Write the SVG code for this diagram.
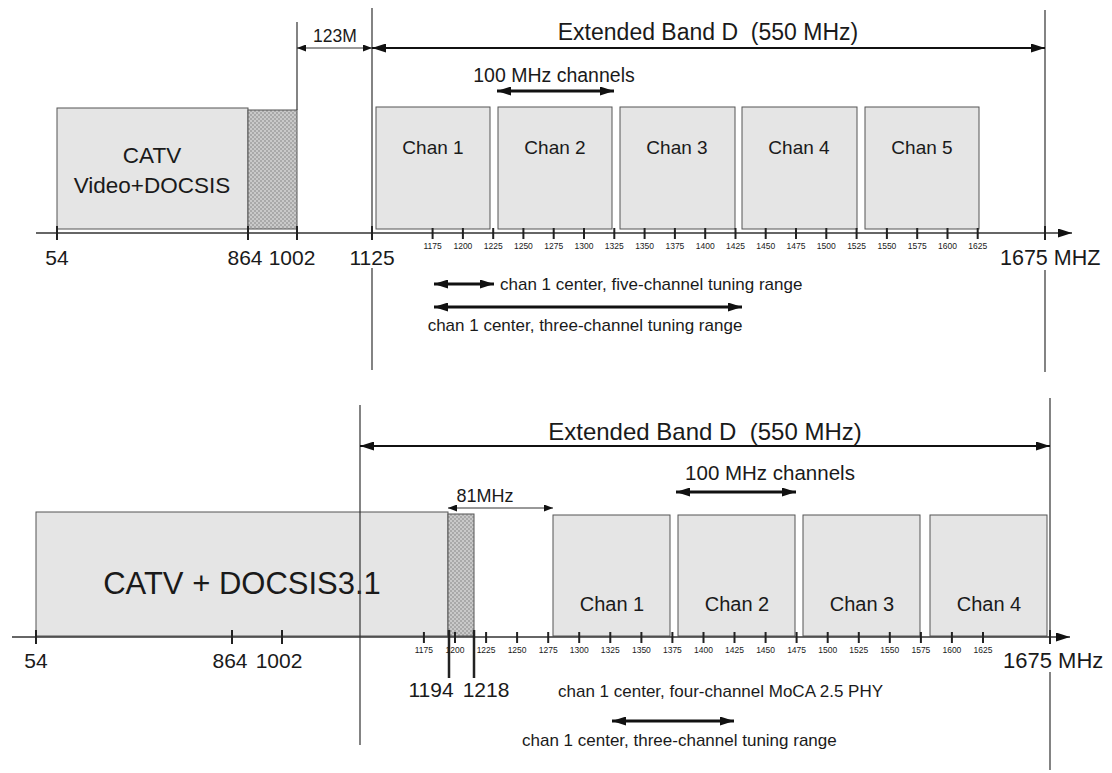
<svg xmlns="http://www.w3.org/2000/svg" width="1112" height="773" viewBox="0 0 1112 773">
<style>
text{font-family:"Liberation Sans",Arial,sans-serif;fill:#1a1a1a}
.box{fill:#e5e5e5;stroke:#555;stroke-width:1}
.hatch{fill:url(#xh);stroke:#555;stroke-width:1}
.vl{stroke:#333;stroke-width:1.2;fill:none}
.axis{stroke:#333;stroke-width:1.5;fill:none}
.tk{stroke:#222;stroke-width:2;fill:none}
.stk{stroke:#222;stroke-width:2;fill:none}
.thick{stroke:#111;stroke-width:3;fill:none;marker-start:url(#ah);marker-end:url(#ah)}
.med{stroke:#111;stroke-width:1.8;fill:none;marker-start:url(#ah);marker-end:url(#ah)}
.thin{stroke:#333;stroke-width:1;fill:none;marker-start:url(#ahs);marker-end:url(#ahs)}
.small{font-size:8.5px;text-anchor:middle}
.ax{font-size:21px;text-anchor:middle}
.chan{font-size:19px;text-anchor:middle}
.note{font-size:17px}
</style>
<defs>
<pattern id="xh" width="4" height="4" patternUnits="userSpaceOnUse">
<rect width="4" height="4" fill="#c9c9c9"/>
<rect width="2" height="2" fill="#a9a9a9"/>
<rect x="2" y="2" width="2" height="2" fill="#a9a9a9"/>
</pattern>
<marker id="ah" viewBox="0 0 10 10" refX="10" refY="5" markerWidth="14" markerHeight="9" markerUnits="userSpaceOnUse" orient="auto-start-reverse" preserveAspectRatio="none"><path d="M0,0 L10,5 L0,10 z" fill="#111"/></marker>
<marker id="ahs" viewBox="0 0 10 10" refX="10" refY="5" markerWidth="9" markerHeight="7" markerUnits="userSpaceOnUse" orient="auto-start-reverse" preserveAspectRatio="none"><path d="M0,0 L10,5 L0,10 z" fill="#111"/></marker>
<marker id="ae" viewBox="0 0 10 10" refX="10" refY="5" markerWidth="14" markerHeight="9" markerUnits="userSpaceOnUse" orient="auto" preserveAspectRatio="none"><path d="M0,0 L10,5 L0,10 z" fill="#111"/></marker>
</defs>
<rect width="1112" height="773" fill="#fff"/>

<!-- ================= TOP DIAGRAM ================= -->
<g id="top-nodes">
<g id="top-catv"><rect class="box" x="57" y="108" width="191" height="121"/>
<text x="152" y="163" style="font-size:22.5px;text-anchor:middle">CATV</text>
<text x="152" y="193" style="font-size:22.5px;text-anchor:middle">Video+DOCSIS</text></g>
<g id="top-guard"><rect class="hatch" x="248" y="110" width="49" height="119"/></g>
<g id="top-chan1"><rect class="box" x="376" y="107" width="114" height="122"/><text class="chan" x="433" y="154">Chan 1</text></g>
<g id="top-chan2"><rect class="box" x="498" y="107" width="114" height="122"/><text class="chan" x="555" y="154">Chan 2</text></g>
<g id="top-chan3"><rect class="box" x="620" y="107" width="115" height="122"/><text class="chan" x="677" y="154">Chan 3</text></g>
<g id="top-chan4"><rect class="box" x="742" y="107" width="115" height="122"/><text class="chan" x="799" y="154">Chan 4</text></g>
<g id="top-chan5"><rect class="box" x="865" y="107" width="114" height="122"/><text class="chan" x="922" y="154">Chan 5</text></g>
</g>

<g id="top-axis">
<path class="vl" d="M297,22 V110 M372,8 V240 M372,268 V370 M1045,10 V240 M1045,270 V372"/>
<path class="axis" d="M36,233 H1072" marker-end="url(#ae)"/>
<path class="tk" d="M57,226 V240 M248,226 V240 M297,226 V240 M372,226 V240 M1045,226 V240"/>
<path class="stk" d="M432.6,228 V239 M462.9,228 V239 M493.2,228 V239 M523.4,228 V239 M553.7,228 V239 M584,228 V239 M614.3,228 V239 M644.6,228 V239 M674.9,228 V239 M705.2,228 V239 M735.5,228 V239 M765.7,228 V239 M796,228 V239 M826.3,228 V239 M856.6,228 V239 M886.9,228 V239 M917.2,228 V239 M947.5,228 V239 M977.7,228 V239"/>
<g>
<text class="small" x="432.6" y="249">1175</text><text class="small" x="462.9" y="249">1200</text><text class="small" x="493.2" y="249">1225</text><text class="small" x="523.4" y="249">1250</text><text class="small" x="553.7" y="249">1275</text><text class="small" x="584" y="249">1300</text><text class="small" x="614.3" y="249">1325</text><text class="small" x="644.6" y="249">1350</text><text class="small" x="674.9" y="249">1375</text><text class="small" x="705.2" y="249">1400</text><text class="small" x="735.5" y="249">1425</text><text class="small" x="765.7" y="249">1450</text><text class="small" x="796" y="249">1475</text><text class="small" x="826.3" y="249">1500</text><text class="small" x="856.6" y="249">1525</text><text class="small" x="886.9" y="249">1550</text><text class="small" x="917.2" y="249">1575</text><text class="small" x="947.5" y="249">1600</text><text class="small" x="977.7" y="249">1625</text>
</g>
<text class="ax" x="57" y="265">54</text>
<text class="ax" x="245" y="265">864</text>
<text class="ax" x="292" y="265">1002</text>
<text class="ax" x="372" y="265">1125</text>
<text x="1000" y="265" style="font-size:21.5px">1675 MHZ</text>
</g>

<g id="top-connectors">
<path class="thin" d="M297,48 H372"/>
<path class="med" d="M372,48 H1045"/>
<path class="thick" d="M497,91 H614"/>
<path class="thick" d="M434,284 H494"/>
<path class="thick" d="M434,307 H742"/>
</g>
<g id="top-labels">
<text x="335" y="42" style="font-size:17.5px;text-anchor:middle">123M</text>
<text x="708" y="40" style="font-size:23px;text-anchor:middle" xml:space="preserve">Extended Band D  (550 MHz)</text>
<text x="554" y="82" style="font-size:19.5px;text-anchor:middle">100 MHz channels</text>
<text class="note" x="500" y="290">chan 1 center, five-channel tuning range</text>
<text class="note" x="585" y="331" text-anchor="middle">chan 1 center, three-channel tuning range</text>
</g>

<!-- ================= BOTTOM DIAGRAM ================= -->
<g id="bottom-nodes">
<g id="bot-catv"><rect class="box" x="36" y="512" width="412" height="124"/>
<text x="242" y="594" style="font-size:31px;text-anchor:middle">CATV + DOCSIS3.1</text></g>
<g id="bot-guard"><rect class="hatch" x="448" y="514" width="26" height="122"/></g>
<g id="bot-chan1"><rect class="box" x="553" y="515" width="117" height="121"/><text class="chan" x="612" y="611" style="font-size:20px">Chan 1</text></g>
<g id="bot-chan2"><rect class="box" x="678" y="515" width="117" height="121"/><text class="chan" x="737" y="611" style="font-size:20px">Chan 2</text></g>
<g id="bot-chan3"><rect class="box" x="803" y="515" width="117" height="121"/><text class="chan" x="862" y="611" style="font-size:20px">Chan 3</text></g>
<g id="bot-chan4"><rect class="box" x="930" y="515" width="117" height="121"/><text class="chan" x="989" y="611" style="font-size:20px">Chan 4</text></g>
</g>

<g id="bottom-axis">
<path class="vl" d="M360,405 V745 M1050,398 V644 M1050,672 V770"/>
<path class="axis" d="M12,637 H1070" marker-end="url(#ae)"/>
<path class="tk" d="M36,630 V644 M232,630 V644 M282,630 V644 M1050,630 V644"/>
<path class="tk" style="stroke-width:2.5" d="M449,630 V678 M474,630 V678"/>
<path class="stk" d="M423.9,632 V643 M455,632 V643 M486.1,632 V643 M517.1,632 V643 M548.2,632 V643 M579.2,632 V643 M610.3,632 V643 M641.4,632 V643 M672.4,632 V643 M703.5,632 V643 M734.5,632 V643 M765.6,632 V643 M796.6,632 V643 M827.7,632 V643 M858.8,632 V643 M889.8,632 V643 M920.9,632 V643 M951.9,632 V643 M983,632 V643"/>
<g>
<text class="small" x="423.9" y="653">1175</text><text class="small" x="455" y="653">1200</text><text class="small" x="486.1" y="653">1225</text><text class="small" x="517.1" y="653">1250</text><text class="small" x="548.2" y="653">1275</text><text class="small" x="579.2" y="653">1300</text><text class="small" x="610.3" y="653">1325</text><text class="small" x="641.4" y="653">1350</text><text class="small" x="672.4" y="653">1375</text><text class="small" x="703.5" y="653">1400</text><text class="small" x="734.5" y="653">1425</text><text class="small" x="765.6" y="653">1450</text><text class="small" x="796.6" y="653">1475</text><text class="small" x="827.7" y="653">1500</text><text class="small" x="858.8" y="653">1525</text><text class="small" x="889.8" y="653">1550</text><text class="small" x="920.9" y="653">1575</text><text class="small" x="951.9" y="653">1600</text><text class="small" x="983" y="653">1625</text>
</g>
<text class="ax" x="36" y="668">54</text>
<text class="ax" x="230" y="668">864</text>
<text class="ax" x="279" y="668">1002</text>
<text class="ax" x="431" y="697">1194</text>
<text class="ax" x="486" y="697">1218</text>
<text x="1003" y="668" style="font-size:22px">1675 MHz</text>
</g>

<g id="bottom-connectors">
<path class="med" d="M360,446 H1050"/>
<path class="thick" d="M676,492 H796"/>
<path class="thin" d="M448,508 H553"/>
<path class="thick" d="M612,721 H734"/>
</g>
<g id="bottom-labels">
<text x="705" y="440" style="font-size:24px;text-anchor:middle" xml:space="preserve">Extended Band D  (550 MHz)</text>
<text x="770" y="480" style="font-size:20.5px;text-anchor:middle">100 MHz channels</text>
<text x="485" y="502" style="font-size:18px;text-anchor:middle">81MHz</text>
<text class="note" x="558" y="697">chan 1 center, four-channel MoCA 2.5 PHY</text>
<text class="note" x="522" y="746">chan 1 center, three-channel tuning range</text>
</g>
</svg>
